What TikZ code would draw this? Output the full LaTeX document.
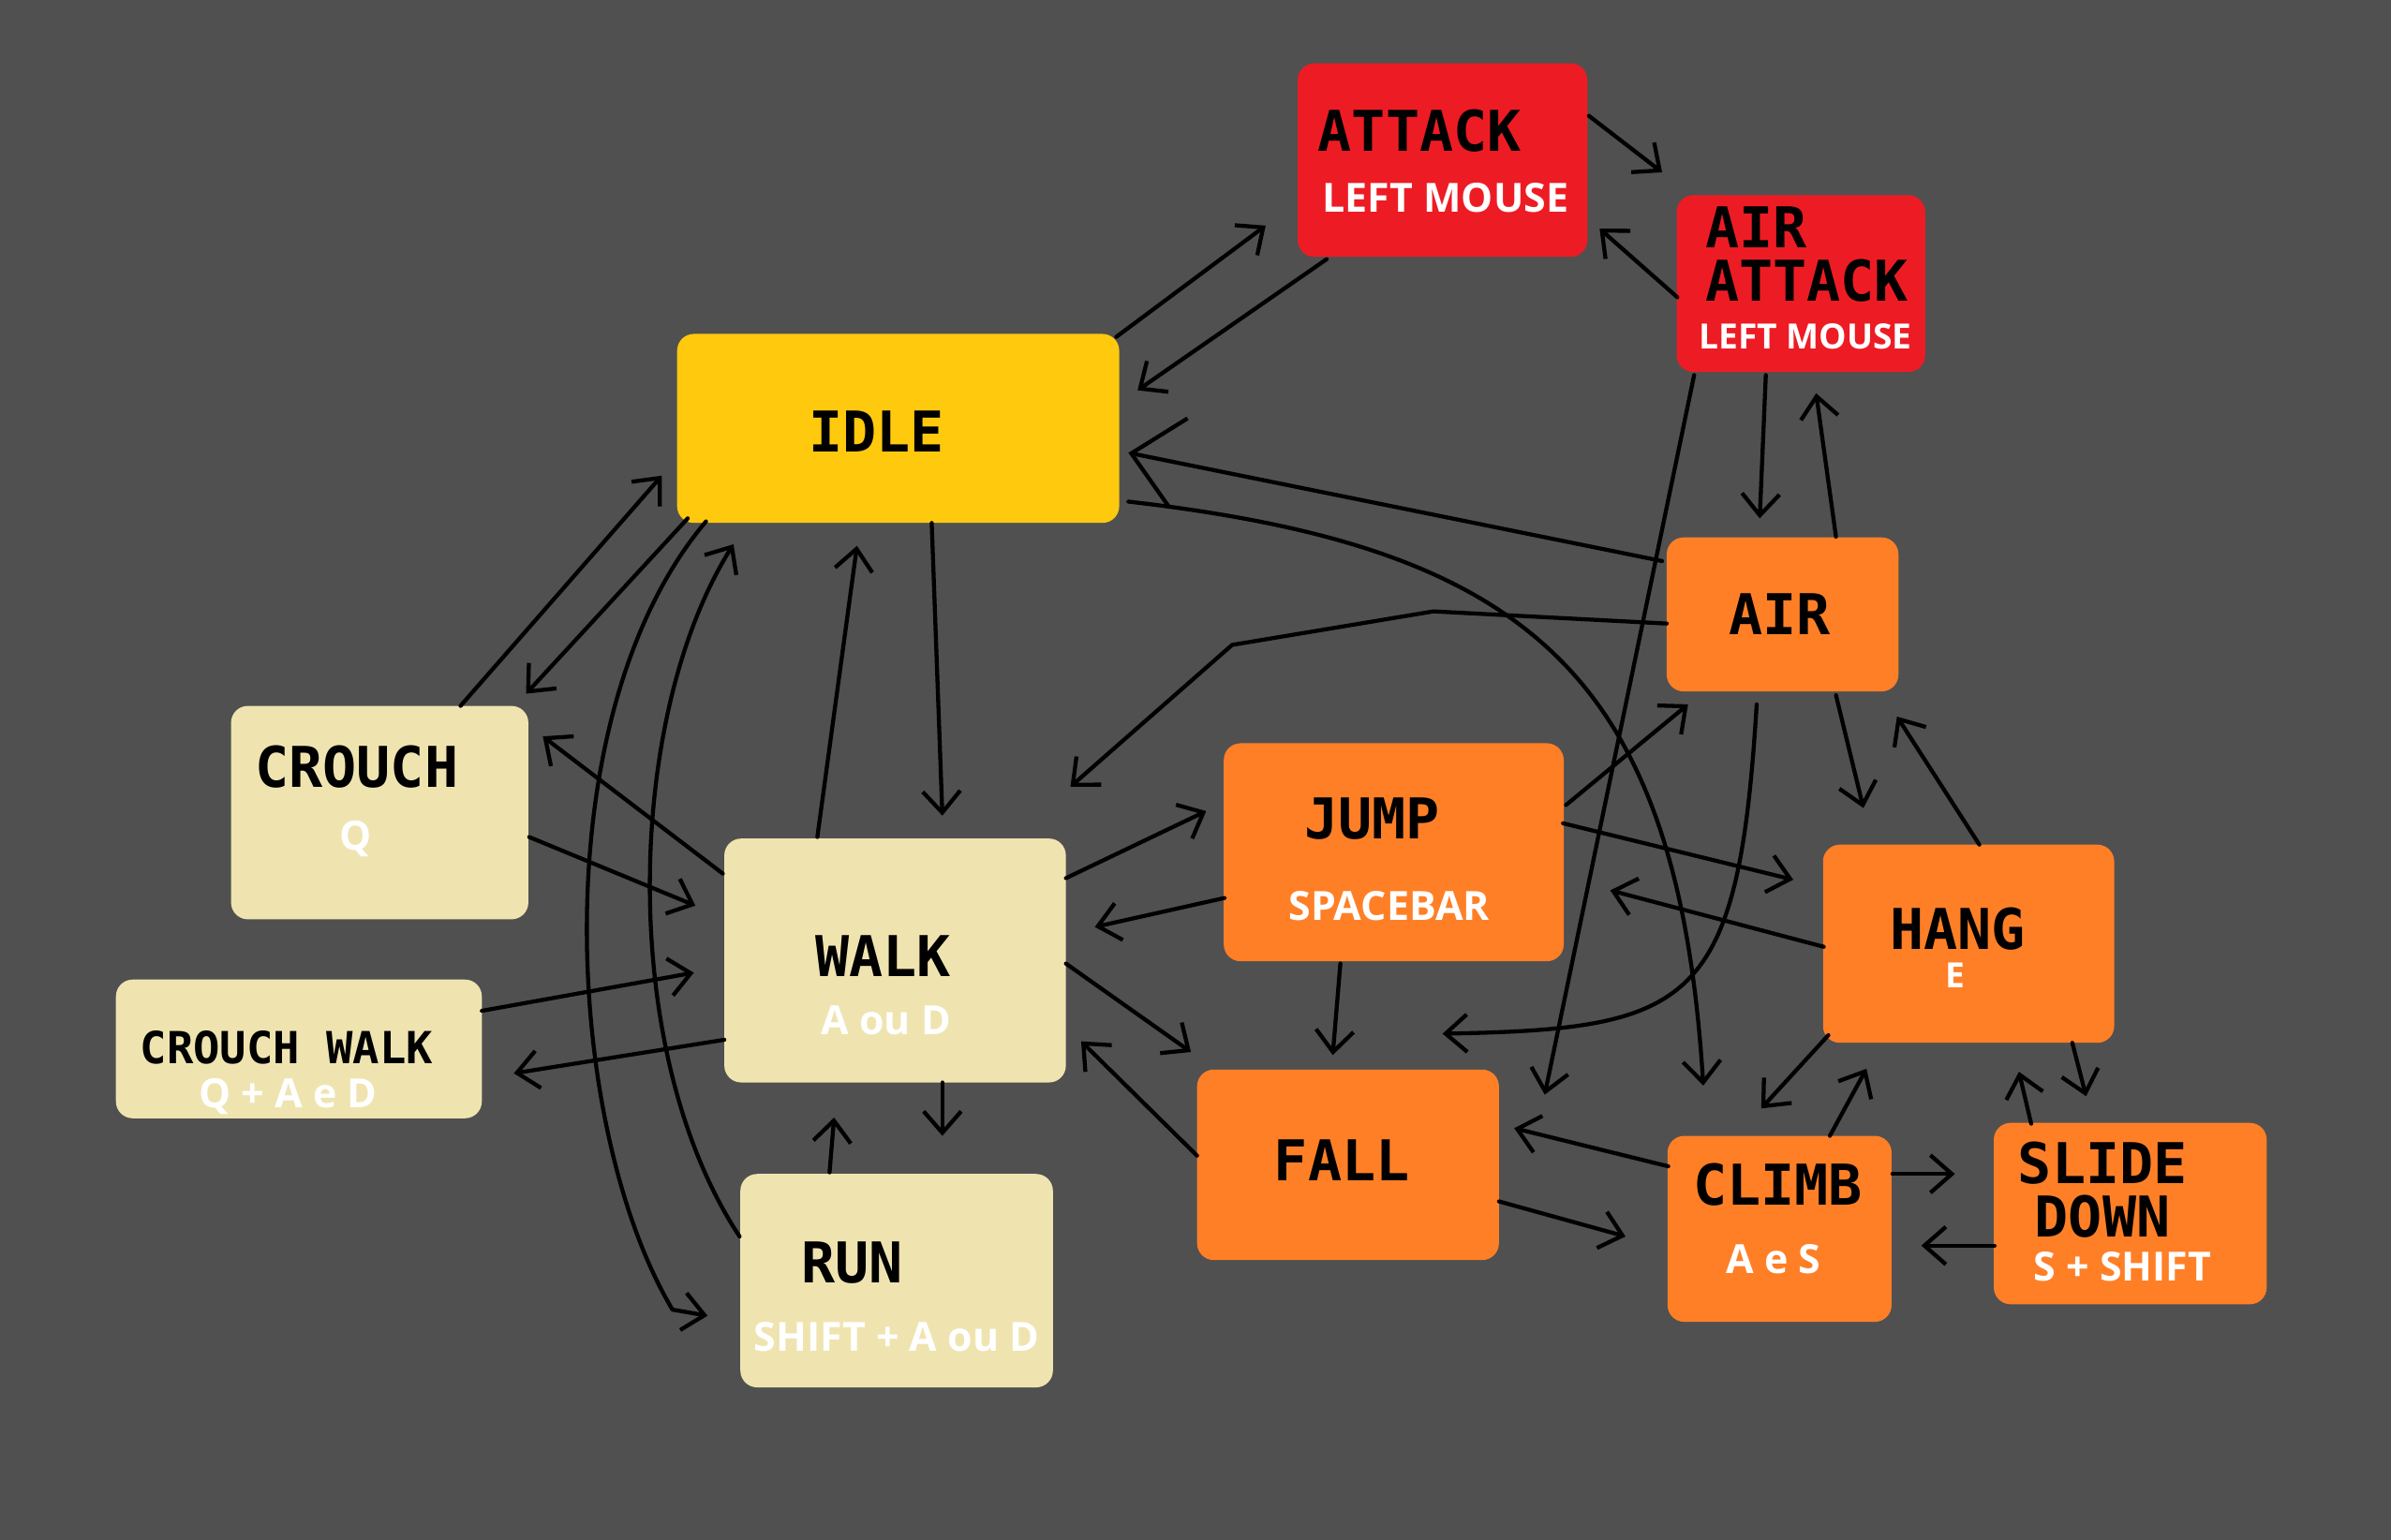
\documentclass[tikz,border=0pt]{standalone}
\usepackage{fontspec}
\newfontfamily\statefont{DejaVu Sans Mono}
\newfontfamily\keyfont{Open Sans}
\usetikzlibrary{arrows.meta,calc}

\definecolor{bggrey}{HTML}{505050}
\definecolor{attackred}{HTML}{ED1C24}
\definecolor{idleyellow}{HTML}{FFC90E}
\definecolor{airorange}{HTML}{FF7F27}
\definecolor{groundcream}{HTML}{EFE4B0}

\tikzset{
    statebox/.style={rectangle, rounded corners=0.22cm, inner sep=0pt, outer sep=0pt},
    statename/.style={font=\statefont\bfseries\fontsize{21}{21}\selectfont, text height=15.3pt, text depth=0pt, inner sep=0pt},
    smallname/.style={font=\statefont\bfseries\fontsize{16.5}{16.5}\selectfont, text height=12pt, text depth=0pt, inner sep=0pt},
    statekey/.style={text=white, font=\keyfont\bfseries\fontsize{15}{15}\selectfont, text height=10.7pt, text depth=0pt, inner sep=0pt},
    smallkey/.style={text=white, font=\keyfont\bfseries\fontsize{13}{13}\selectfont, text height=9.3pt, text depth=0pt, inner sep=0pt},
    trans/.style={->, line width=1.5pt, line cap=round, line join=round}
}

\begin{document}
\begin{tikzpicture}[
                    x=0.02cm, y=-0.02cm,
                    >={Straight Barb[length=8pt,width=14pt]}
                    ]

    \fill[bggrey] (0,0) rectangle (1568,1010);

    \node[statebox, fill=attackred, minimum width=3.8cm, minimum height=2.54cm] (attack) at (946,105) {};
    \node[statebox, fill=attackred, minimum width=3.26cm, minimum height=2.32cm] (airatk) at (1181,186) {};
    \node[statebox, fill=idleyellow, minimum width=5.8cm, minimum height=2.48cm] (idle) at (589,281) {};
    \node[statebox, fill=airorange, minimum width=3.04cm, minimum height=2.02cm] (air) at (1169,403) {};
    \node[statebox, fill=groundcream, minimum width=3.9cm, minimum height=2.8cm] (crouch) at (249,533) {};
    \node[statebox, fill=airorange, minimum width=4.46cm, minimum height=2.86cm] (jump) at (914,559) {};
    \node[statebox, fill=groundcream, minimum width=4.48cm, minimum height=3.2cm] (walk) at (587,630) {};
    \node[statebox, fill=airorange, minimum width=3.82cm, minimum height=2.6cm] (hang) at (1291,619) {};
    \node[statebox, fill=groundcream, minimum width=4.8cm, minimum height=1.82cm] (cwalk) at (196,688) {};
    \node[statebox, fill=airorange, minimum width=3.96cm, minimum height=2.5cm] (fall) at (884,764) {};
    \node[statebox, fill=airorange, minimum width=2.94cm, minimum height=2.44cm] (climb) at (1167,806) {};
    \node[statebox, fill=airorange, minimum width=3.58cm, minimum height=2.38cm] (slide) at (1397,796) {};
    \node[statebox, fill=groundcream, minimum width=4.1cm, minimum height=2.8cm] (run) at (588,840) {};

    \node[statename] (attackname) at (931,86) {ATTACK};
    \node[statekey] (attackkey) at (948,130) {LEFT MOUSE};
    \node[statename, anchor=west] (airatkname) at (1118,149) {AIR};
    \node[statename, anchor=west] (airatkname2) at (1118,184) {ATTACK};
    \node[smallkey] (airatkkey) at (1184,221) {LEFT MOUSE};
    \node[statename] (idlename) at (575,283) {IDLE};
    \node[statename] (airname) at (1167,403) {AIR};
    \node[statename] (crouchname) at (234,503) {CROUCH};
    \node[statekey] (crouchkey) at (233,548) {Q};
    \node[statename] (jumpname) at (900,537) {JUMP};
    \node[statekey] (jumpkey) at (911,594) {SPACEBAR};
    \node[statename] (walkname) at (579,627) {WALK};
    \node[statekey] (walkkey) at (581,669) {A ou D};
    \node[statename] (hangname) at (1284,609) {HANG};
    \node[smallkey] (hangkey) at (1282,640) {E};
    \node[smallname] (cwalkname) at (188,687) {CROUCH WALK};
    \node[statekey] (cwalkkey) at (189,717) {Q + A e D};
    \node[statename] (fallname) at (880,761) {FALL};
    \node[statename] (climbname) at (1166,777) {CLIMB};
    \node[statekey] (climbkey) at (1163,826) {A e S};
    \node[statename, anchor=west] (slidename) at (1323,763) {SLIDE};
    \node[statename, anchor=west] (slidename2) at (1334,798) {DOWN};
    \node[statekey] (slidekey) at (1392,831) {S + SHIFT};
    \node[statename] (runname) at (559,828) {RUN};
    \node[statekey] (runkey) at (588,877) {SHIFT + A ou D};

    \draw[trans] ($(idle)+(143,-60)$) -- ($(attack)+(-116,43)$);
    \draw[trans] ($(attack)+(-76,65)$) -- ($(idle)+(157,-25)$);
    \draw[trans] ($(attack)+(96,-29)$) -- ($(airatk)+(-91,-73)$);
    \draw[trans] ($(airatk)+(-81,9)$) -- ($(attack)+(103,45)$);
    \draw[trans] ($(airatk)+(-23,60)$) -- ($(air)+(-15,-63)$);
    \draw[trans] ($(air)+(35,-51)$) -- ($(airatk)+(10,72)$);
    \draw[trans] ($(airatk)+(-70,60)$) -- ($(fall)+(129,-46)$);
    \draw[trans, >={Straight Barb[length=18pt,width=34pt]}] ($(air)+(-79,-35)$) -- ($(idle)+(151,16)$);
    \draw[trans] ($(idle)+(151,48)$) .. controls +(260,30) and +(-17,-272) .. ($(climb)+(-50,-94)$);
    \draw[trans] ($(air)+(-76,6)$) -- ++(-153,-8) -- ++(-132,22) -- ($(walk)+(115,-114)$);

    \draw[trans] ($(idle)+(22,62)$) -- ($(walk)+(31,-95)$);
    \draw[trans] ($(walk)+(-51,-81)$) -- ($(idle)+(-27,77)$);
    \draw[trans] ($(crouch)+(53,-70)$) -- ($(idle)+(-155,31)$);
    \draw[trans] ($(idle)+(-138,59)$) -- ($(crouch)+(96,-78)$);
    \draw[trans] ($(idle)+(-126,61)$) .. controls +(-108,128) and +(-71,-119) .. ($(run)+(-147,19)$) -- ($(run)+(-124,23)$);
    \draw[trans] ($(run)+(-103,-29)$) .. controls +(-80,-121) and +(-71,113) .. ($(idle)+(-108,76)$);
    \draw[trans] ($(walk)+(-113,-57)$) -- ($(crouch)+(107,-50)$);
    \draw[trans] ($(crouch)+(98,16)$) -- ($(walk)+(-131,-36)$);
    \draw[trans] ($(cwalk)+(120,-25)$) -- ($(walk)+(-132,8)$);
    \draw[trans] ($(walk)+(-112,52)$) -- ($(cwalk)+(141,16)$);
    \draw[trans] ($(walk)+(31,80)$) -- ($(run)+(30,-95)$);
    \draw[trans] ($(run)+(-44,-71)$) -- ($(walk)+(-40,103)$);

    \draw[trans] ($(walk)+(112,-54)$) -- ($(jump)+(-123,-27)$);
    \draw[trans] ($(jump)+(-111,30)$) -- ($(walk)+(131,-22)$);
    \draw[trans] ($(walk)+(112,2)$) -- ($(fall)+(-103,-74)$);
    \draw[trans] ($(fall)+(-99,-6)$) -- ($(walk)+(122,53)$);
    \draw[trans] ($(jump)+(-35,73)$) -- ($(fall)+(-10,-72)$);
    \draw[trans] ($(jump)+(113,-31)$) -- ($(air)+(-62,59)$);
    \draw[trans] ($(jump)+(111,-19)$) -- ($(hang)+(-115,-42)$);
    \draw[trans] ($(hang)+(-95,2)$) -- ($(jump)+(142,25)$);
    \draw[trans] ($(air)+(-17,59)$) .. controls +(-12,198) and +(164,-3) .. ($(fall)+(62,-86)$);

    \draw[trans] ($(air)+(35,53)$) -- ($(hang)+(-69,-89)$);
    \draw[trans] ($(hang)+(7,-65)$) -- ($(air)+(75,67)$);
    \draw[trans] ($(hang)+(-92,60)$) -- ($(climb)+(-12,-79)$);
    \draw[trans] ($(climb)+(33,-61)$) -- ($(hang)+(-67,82)$);
    \draw[trans] ($(hang)+(68,65)$) -- ($(slide)+(-29,-77)$);
    \draw[trans] ($(slide)+(-65,-59)$) -- ($(hang)+(33,84)$);
    \draw[trans] ($(climb)+(-73,-41)$) -- ($(fall)+(109,-24)$);
    \draw[trans] ($(fall)+(99,24)$) -- ($(climb)+(-101,5)$);
    \draw[trans] ($(climb)+(74,-36)$) -- ($(slide)+(-115,-26)$);
    \draw[trans] ($(slide)+(-89,21)$) -- ($(climb)+(93,11)$);
\end{tikzpicture}
\end{document}
